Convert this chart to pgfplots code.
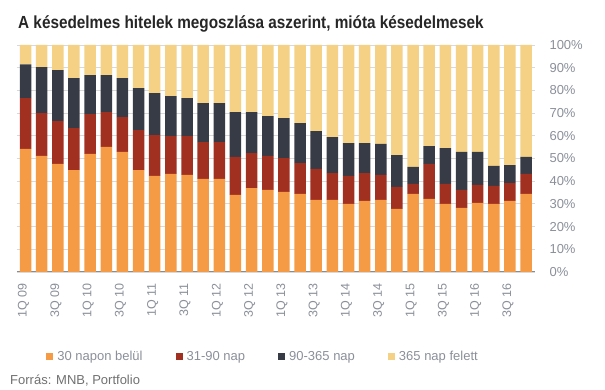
\documentclass[border=0pt]{standalone}
\usepackage{pgfplots}
\pgfplotsset{compat=1.18}
\usepackage{pgfplotstable}
\usepackage{fontspec}
\setmainfont{Liberation Sans}
\newfontfamily\titlefont[FakeStretch=0.875]{Liberation Sans}
\definecolor{cOr}{HTML}{F59B45}
\definecolor{cRd}{HTML}{A13020}
\definecolor{cDk}{HTML}{363B45}
\definecolor{cYl}{HTML}{F5D185}
\definecolor{cTx}{HTML}{8A8F99}
\definecolor{cSrc}{HTML}{707070}
\pgfplotstableread{
x o r d y
0 54.2 22.4 14.9 8.5
1 51.1 18.9 20.2 9.8
2 47.6 18.9 22.4 11.1
3 44.9 18.5 22.0 14.6
4 52.0 17.5 17.2 13.3
5 55.1 15.3 16.3 13.3
6 52.9 15.3 17.2 14.6
7 44.9 17.6 18.5 19.0
8 42.3 18.0 18.5 21.2
9 43.2 16.7 17.6 22.5
10 42.8 17.1 16.7 23.4
11 41.0 16.2 17.2 25.6
12 41.0 16.2 17.2 25.6
13 34.0 16.7 19.7 29.6
14 37.0 15.4 18.0 29.6
15 36.2 14.9 17.6 31.3
16 35.3 14.9 17.6 32.2
17 34.4 13.6 17.6 34.4
18 31.8 13.6 16.7 37.9
19 31.8 11.8 15.8 40.6
20 30.0 12.3 14.5 43.2
21 31.3 12.3 13.2 43.2
22 31.8 11.0 13.6 43.6
23 27.8 9.7 14.0 48.5
24 34.4 4.4 7.5 53.7
25 32.2 15.4 7.9 44.5
26 30.0 8.8 15.8 45.4
27 28.3 7.9 16.7 47.1
28 30.5 7.9 14.5 47.1
29 30.0 7.9 8.8 53.3
30 31.3 7.9 7.9 52.9
31 34.4 8.8 7.5 49.3
}\data
\begin{document}
\begin{tikzpicture}
\useasboundingbox (0,0) rectangle (605pt,390pt);
\node[anchor=base west, inner sep=0pt, font=\titlefont\bfseries\fontsize{17.5}{20}\selectfont, text=black!85] at (18pt,361pt) {A késedelmes hitelek megoszlása aszerint, mióta késedelmesek};
\node[anchor=base west, inner sep=0pt, font=\fontsize{13}{15}\selectfont, text=cSrc] at (10pt,5pt) {Forrás: MNB, Portfolio};
\begin{axis}[
  at={(17pt,118pt)}, anchor=south west,
  scale only axis, width=518pt, height=227pt,
  ybar stacked, bar width=11.5pt,
  xmin=-0.53, xmax=31.55, ymin=0, ymax=100,
  axis line style={draw=none},
  tick style={draw=none},
  ymajorgrids, grid style={draw=black!15, line width=0.8pt},
  ytick={0,10,...,100},
  yticklabel pos=right,
  yticklabel={\pgfmathprintnumber{\tick}\%},
  yticklabel style={anchor=west, xshift=11pt, font=\fontsize{13}{15}\selectfont, text=cTx, /pgf/number format/assume math mode=true},
  xtick={0,2,...,30},
  xticklabels={1Q 09,3Q 09,1Q 10,3Q 10,1Q 11,3Q 11,1Q 12,3Q 12,1Q 13,3Q 13,1Q 14,3Q 14,1Q 15,3Q 15,1Q 16,3Q 16},
  xticklabel style={rotate=90, anchor=east, xshift=-8pt, yshift=2pt, font=\fontsize{12.5}{14}\selectfont, text=cTx},
  legend columns=4,
  legend style={at={(0.475,-0.374)}, anchor=center, draw=none, fill=none,
    font=\fontsize{13}{15}\selectfont, text=cTx,
    /tikz/every even column/.append style={column sep=31pt},
    /tikz/every odd column/.append style={column sep=2pt}},
  legend image code/.code={\fill[#1] (0pt,-3.5pt) rectangle (7pt,3.5pt);},
]
\addplot[fill=cOr, draw=none] table[x=x,y=o]{\data};
\addplot[fill=cRd, draw=none] table[x=x,y=r]{\data};
\addplot[fill=cDk, draw=none] table[x=x,y=d]{\data};
\addplot[fill=cYl, draw=none] table[x=x,y=y]{\data};
\legend{30 napon belül,31-90 nap,90-365 nap,365 nap felett}
\draw[black!45, line width=1pt] (axis cs:-0.53,0) -- (axis cs:31.55,0);
\end{axis}
\end{tikzpicture}
\end{document}
